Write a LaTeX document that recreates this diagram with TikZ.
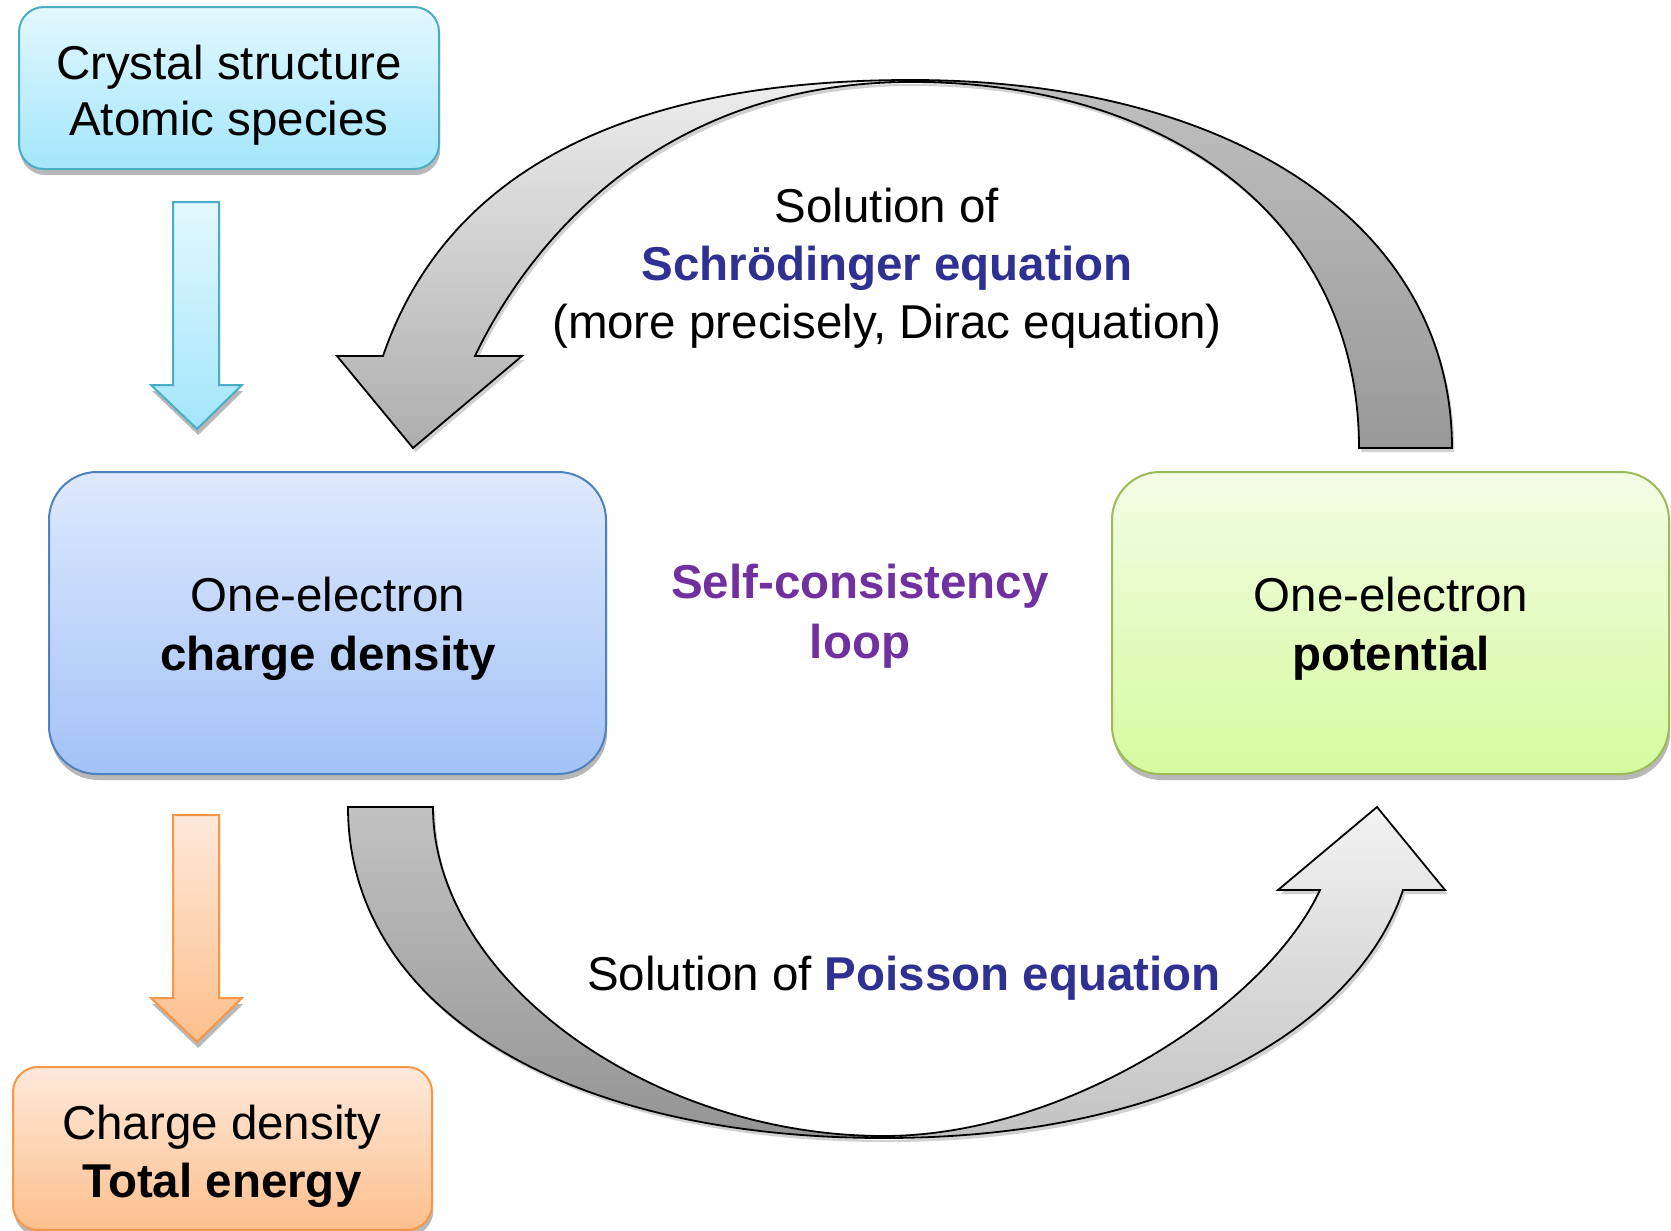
\documentclass[tikz,border=0pt]{standalone}
\usepackage{fontspec}
\setmainfont{Liberation Sans}
\usetikzlibrary{shadows}
\definecolor{eqblue}{HTML}{2E3192}
\definecolor{loopviolet}{HTML}{7030A0}
\definecolor{cyanline}{HTML}{4BACC6}
\definecolor{cyantop}{HTML}{E3F8FE}
\definecolor{cyanbot}{HTML}{A3E6FB}
\definecolor{blueline}{HTML}{4F81BD}
\definecolor{bluetop}{HTML}{DEE9FD}
\definecolor{bluebot}{HTML}{A3C2F7}
\definecolor{greenline}{HTML}{9BBB59}
\definecolor{greentop}{HTML}{F2FCE5}
\definecolor{greenbot}{HTML}{D6FB9E}
\definecolor{orangeline}{HTML}{F79646}
\definecolor{orangetop}{HTML}{FEE9DB}
\definecolor{orangebot}{HTML}{FDBF8C}
\tikzset{
  txt/.style={font=\fontsize{23.75pt}{29pt}\selectfont, anchor=base, inner sep=0pt},
  boldtxt/.style={txt, font=\fontsize{23.75pt}{29pt}\selectfont\bfseries},
  boxshadow/.style={drop shadow={shadow xshift=0.6pt, shadow yshift=-3pt, opacity=0.28, fill=black}},
  arrshadow/.style={drop shadow={shadow xshift=1.2pt, shadow yshift=-2pt, opacity=0.18, fill=black}},
  boxbase/.style={draw, line width=1pt, boxshadow},
  cyanbox/.style={boxbase, draw=cyanline, top color=cyantop, bottom color=cyanbot},
  bluebox/.style={boxbase, draw=blueline, top color=bluetop, bottom color=bluebot},
  greenbox/.style={boxbase, draw=greenline, top color=greentop, bottom color=greenbot},
  orangebox/.style={boxbase, draw=orangeline, top color=orangetop, bottom color=orangebot},
  grayarrow/.style={draw=black, line width=0.9pt, line join=miter, arrshadow},
}
\begin{document}
\begin{tikzpicture}[x=0.5pt,y=-0.5pt]
\useasboundingbox (0,0) rectangle (1671,1231);

% ---------- boxes ----------
\node[cyanbox, rectangle, rounded corners=12.5pt, minimum width=210pt, minimum height=81pt] (crystal) at (229,88) {};
\node[bluebox, rectangle, rounded corners=24pt, minimum width=278.5pt, minimum height=151pt] (charge) at (327.5,623) {};
\node[greenbox, rectangle, rounded corners=24pt, minimum width=278.5pt, minimum height=151pt] (potential) at (1390.5,623) {};
\node[orangebox, rectangle, rounded corners=12.5pt, minimum width=209.5pt, minimum height=81.5pt] (energy) at (222.5,1148.5) {};

% ---------- straight block arrows ----------
\path[boxbase, draw=cyanline, top color=cyantop, bottom color=cyanbot]
  (173,202) -- (219,202) -- (219,385) -- (242,385) -- (197,429) -- (151,385) -- (173,385) -- cycle;
\path[boxbase, draw=orangeline, top color=orangetop, bottom color=orangebot]
  (173,815) -- (219,815) -- (219,998) -- (242,998) -- (197,1042) -- (151,998) -- (173,998) -- cycle;

% ---------- top curved arrow (Schroedinger) ----------
\path[grayarrow, top color=black!25, bottom color=black!40]
  (911,80) .. controls (1236,80) and (1452,227) .. (1452,448)
  -- (1359,448) .. controls (1359,228) and (1180,82) .. (911,82) -- cycle;
\path[grayarrow, top color=black!7, bottom color=black!32]
  (911,80) .. controls (611,80) and (443,181) .. (383,356)
  -- (337,356) -- (413,448) -- (522,356) -- (475,356)
  .. controls (530,241) and (661,82) .. (911,82) -- cycle;

% ---------- bottom curved arrow (Poisson) ----------
\path[grayarrow, top color=black!24, bottom color=black!42]
  (348,807) -- (433,807) .. controls (433,978) and (649,1136) .. (884,1136)
  -- (884,1138) .. controls (562,1138) and (348,1006) .. (348,807) -- cycle;
\path[grayarrow, top color=black!5, bottom color=black!24]
  (884,1136) .. controls (1064,1136) and (1265,1008) .. (1320,890)
  -- (1278,890) -- (1377,807) -- (1445,890) -- (1403,890)
  .. controls (1360,1020) and (1184,1138) .. (884,1138) -- cycle;

% ---------- box texts ----------
\node[txt] (cs1) at (229,79) {Crystal structure};
\node[txt] (cs2) at (229,135) {Atomic species};
\node[txt] (cd1) at (328,611) {One-electron};
\node[boldtxt] (cd2) at (328,670) {charge density};
\node[txt] (po1) at (1391,611) {One-electron};
\node[boldtxt] (po2) at (1391,670) {potential};
\node[txt] (en1) at (222,1139) {Charge density};
\node[boldtxt] (en2) at (222,1197) {Total energy};

% ---------- loop label ----------
\node[boldtxt, text=loopviolet] (lp1) at (860,598) {Self-consistency};
\node[boldtxt, text=loopviolet] (lp2) at (860,658) {loop};

% ---------- arrow labels ----------
\node[txt] (s1) at (887,222) {Solution of};
\node[boldtxt, text=eqblue] (s2) at (887,280) {Schrödinger equation};
\node[txt] (s3) at (887,338) {(more precisely, Dirac equation)};
\node[txt] (p1) at (904,990) {Solution of {\bfseries\color{eqblue}Poisson equation}};
\end{tikzpicture}
\end{document}
